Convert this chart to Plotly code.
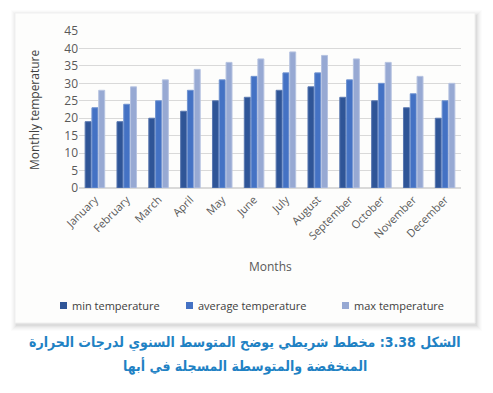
import plotly.graph_objects as go

months = ["January", "February", "March", "April", "May", "June", "July",
          "August", "September", "October", "November", "December"]
min_temp = [19, 19, 20, 22, 25, 26, 28, 29, 26, 25, 23, 20]
avg_temp = [23, 24, 25, 28, 31, 32, 33, 33, 31, 30, 27, 25]
max_temp = [28, 29, 31, 34, 36, 37, 39, 38, 37, 36, 32, 30]
y_ticks = list(range(0, 50, 5))

OFF = 8  # page body margin
W, H = 493 - OFF, 393 - OFF
L, R, T, B = 79 - OFF, 461 - OFF, 31 - OFF, 188 - OFF


def fx(px):
    return (px - OFF - L) / (R - L)


def fy(py):
    return 1 - (py - OFF - T) / (B - T)


fig = go.Figure()
series = [("min temperature", min_temp, "#2f5597", "#5a78b0"),
          ("average temperature", avg_temp, "#4472c4", "#6f92d0"),
          ("max temperature", max_temp, "#97a9d3", "#b6c3e1")]
for name, vals, col, edge in series:
    fig.add_trace(go.Bar(x=months, y=vals, name=name, marker_color=col,
                         marker_line=dict(color=edge, width=1), showlegend=False))

shapes = []
for d, op in [(6, 0.012), (5, 0.015), (4, 0.02), (3, 0.025), (2, 0.03), (1, 0.035)]:
    shapes.append(dict(type="rect", xref="paper", yref="paper",
                       x0=fx(15 - d + 2), x1=fx(475 + d + 1), y0=fy(323 + d + 2), y1=fy(13 - d + 3),
                       fillcolor=f"rgba(0,0,0,{op})", line_width=0, layer="below"))
shapes.append(dict(type="rect", xref="paper", yref="paper",
                   x0=fx(15), x1=fx(475), y0=fy(323), y1=fy(13),
                   fillcolor="#fdfdfc", line=dict(color="#efefef", width=1), layer="below"))

cap_font = dict(size=14, color="#1f82c4", family="DejaVu Sans Condensed, DejaVu Sans")
annotations = [
    dict(text="Monthly temperature", xref="paper", yref="paper", x=fx(34), y=fy(110),
         textangle=-90, showarrow=False, font=dict(size=12, color="#404040"),
         xanchor="center", yanchor="middle"),
    dict(text="Months", xref="paper", yref="paper", x=fx(270), y=fy(266),
         showarrow=False, font=dict(size=12, color="#595959"),
         xanchor="center", yanchor="middle"),
    dict(text="<b>الشكل 3.38: مخطط شريطي يوضح المتوسط السنوي لدرجات الحرارة</b>",
         xref="paper", yref="paper", x=fx(245), y=fy(343),
         showarrow=False, font=cap_font, xanchor="center", yanchor="middle"),
    dict(text="<b>المنخفضة والمتوسطة المسجلة في أبها</b>",
         xref="paper", yref="paper", x=fx(245), y=fy(366),
         showarrow=False, font=cap_font, xanchor="center", yanchor="middle"),
]
legend_x = [60, 186, 342]
for (name, vals, col, edge), lx in zip(series, legend_x):
    shapes.append(dict(type="rect", xref="paper", yref="paper",
                       x0=fx(lx), x1=fx(lx + 7), y0=fy(309), y1=fy(302),
                       fillcolor=col, line_width=0))
    annotations.append(dict(text=name, xref="paper", yref="paper", x=fx(lx + 10), y=fy(305.5),
                            showarrow=False, font=dict(size=11, color="#404040"),
                            xanchor="left", yanchor="middle"))

fig.update_layout(
    width=W, height=H,
    margin=dict(l=L, r=W - R, t=T, b=H - B, autoexpand=False),
    paper_bgcolor="white", plot_bgcolor="rgba(0,0,0,0)",
    barmode="group", bargap=0.36, bargroupgap=0.12,
    font=dict(family="Open Sans, DejaVu Sans, sans-serif", color="#595959"),
    showlegend=False,
    xaxis=dict(tickangle=-45, tickfont=dict(size=11, color="#595959"),
               showgrid=False, showline=True, linecolor="#d9d9d9", ticks=""),
    yaxis=dict(range=[0, 45], tickvals=y_ticks, tickfont=dict(size=12, color="#595959"),
               gridcolor="#d9d9d9", zeroline=True, zerolinecolor="#d9d9d9",
               ticks="", showline=False),
    shapes=shapes,
    annotations=annotations,
)

fig.write_html("out.html")
